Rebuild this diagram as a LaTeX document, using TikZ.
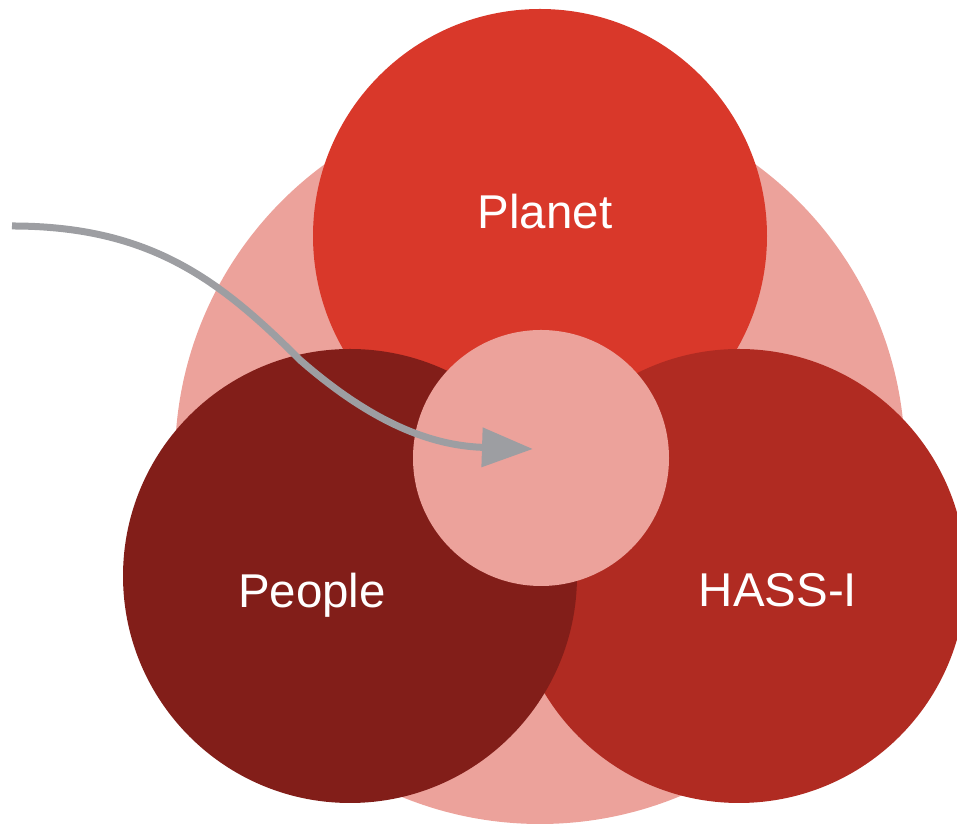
\documentclass[tikz,border=0pt]{standalone}
\usepackage{fontspec}
\setmainfont{Liberation Sans}
\usetikzlibrary{arrows.meta}
\definecolor{blush}{HTML}{ECA29B}
\definecolor{planetred}{HTML}{D9382A}
\definecolor{peoplered}{HTML}{821E19}
\definecolor{hassred}{HTML}{B02B22}
\definecolor{arrowgray}{HTML}{9D9EA2}
\tikzset{
  label/.style={text=white,anchor=base,inner sep=0pt,
    font=\fontsize{13.5}{16}\selectfont},
  flow/.style={draw=arrowgray,line width=0.7mm,
    -{Triangle[length=5.1mm,width=3.8mm]}}
}
\newcommand*{\disc}[3]
  {\fill[#1] (#2) circle (#3)}

\begin{document}
\begin{tikzpicture}[x=0.1mm,y=-0.1mm]
\useasboundingbox (0,0) rectangle (957,826);
\coordinate (O) at (540,459);
\coordinate (P) at (540,236);
\coordinate (L) at (350,576);
\coordinate (R) at (739,576);
\disc{blush}{O}{365};
\disc{planetred}{P}{227};
\disc{hassred}{R}{227};
\disc{peoplered}{L}{227};
\disc{blush}{541,458}{128};
\node[label] (planet) at (545,229) {Planet};
\node[label] (people) at (312,608) {People};
\node[label] (hass) at (778,607) {HASS-I};
\coordinate (start) at (12,226);
\coordinate (tip) at (533,449);
\draw[flow] (start) .. controls (150,226) and (220,280) .. (300,360)
  .. controls (380,430) and (440,446) .. (tip);
\end{tikzpicture}
\end{document}
